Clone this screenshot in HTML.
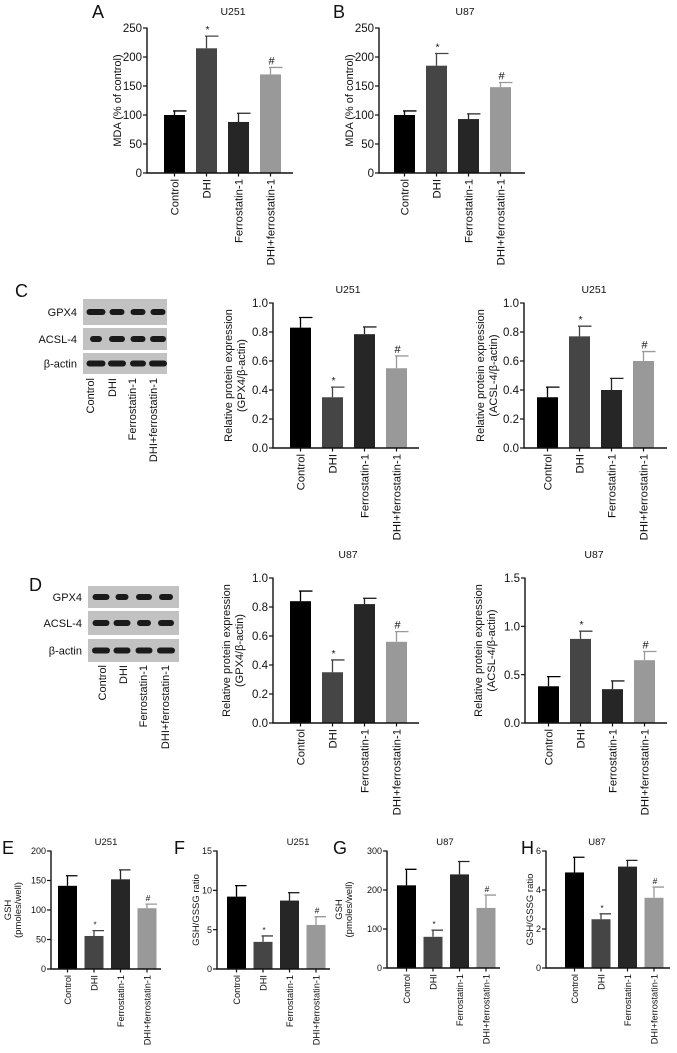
<!DOCTYPE html>
<html><head><meta charset="utf-8">
<style>
html,body{margin:0;padding:0;background:#fff;}
svg{display:block;font-family:"Liberation Sans",Arial,sans-serif;}
</style></head>
<body>
<svg id="fig" width="677" height="1053" viewBox="0 0 677 1053" xmlns="http://www.w3.org/2000/svg">
<rect width="677" height="1053" fill="#fff"/>
<g id="blots"></g>
</svg>
<script>
// ---------- data ----------
const categories = ["Control", "DHI", "Ferrostatin-1", "DHI+ferrostatin-1"];
const barColors = ["#000000", "#454545", "#262626", "#999999"];
const marks = ["", "*", "", "#"];

const valuesA = [100, 215, 88, 170];
const errorsA = [7, 21, 15, 12];
const ticksA = [0, 50, 100, 150, 200, 250];
const tickLabelsA = ["0", "50", "100", "150", "200", "250"];

const valuesB = [100, 185, 93, 148];
const errorsB = [7, 21, 9, 8];
const ticksB = [0, 50, 100, 150, 200, 250];
const tickLabelsB = ["0", "50", "100", "150", "200", "250"];

const valuesC1 = [0.83, 0.35, 0.785, 0.55];
const errorsC1 = [0.07, 0.07, 0.05, 0.085];
const ticksC = [0, 0.2, 0.4, 0.6, 0.8, 1.0];
const tickLabelsC = ["0.0", "0.2", "0.4", "0.6", "0.8", "1.0"];

const valuesC2 = [0.35, 0.77, 0.40, 0.60];
const errorsC2 = [0.07, 0.07, 0.08, 0.065];

const valuesD1 = [0.84, 0.35, 0.82, 0.56];
const errorsD1 = [0.07, 0.085, 0.04, 0.07];

const valuesD2 = [0.38, 0.87, 0.35, 0.65];
const errorsD2 = [0.10, 0.08, 0.085, 0.09];
const ticksD2 = [0, 0.5, 1.0, 1.5];
const tickLabelsD2 = ["0.0", "0.5", "1.0", "1.5"];

const valuesE = [141, 56, 152, 103];
const errorsE = [17, 9, 16, 7];
const ticksE = [0, 50, 100, 150, 200];
const tickLabelsE = ["0", "50", "100", "150", "200"];

const valuesF = [9.2, 3.45, 8.7, 5.6];
const errorsF = [1.4, 0.75, 1.0, 1.05];
const ticksF = [0, 5, 10, 15];
const tickLabelsF = ["0", "5", "10", "15"];

const valuesG = [212, 80, 240, 154];
const errorsG = [41, 17, 33, 33];
const ticksG = [0, 100, 200, 300];
const tickLabelsG = ["0", "100", "200", "300"];

const valuesH = [4.9, 2.5, 5.2, 3.6];
const errorsH = [0.78, 0.28, 0.32, 0.55];
const ticksH = [0, 2, 4, 6];
const tickLabelsH = ["0", "2", "4", "6"];

// ---------- drawing ----------
const NS = "http://www.w3.org/2000/svg";
const svg = document.getElementById("fig");
function el(tag, attrs, parent) {
  const e = document.createElementNS(NS, tag);
  for (const k in attrs) e.setAttribute(k, attrs[k]);
  (parent || svg).appendChild(e);
  return e;
}
function txt(parent, x, y, s, size, anchor, rot, weight) {
  const t = el("text", {x: x, y: y, "font-size": size, "text-anchor": anchor || "start", fill: "#111"}, parent);
  if (weight) t.setAttribute("font-weight", weight);
  if (rot) t.setAttribute("transform", "rotate(-90 " + x + " " + y + ")");
  t.textContent = s;
  return t;
}

function drawChart(id, L, values, errors, ticks, tickLabels, title, ytitles) {
  const g = el("g", {});
  
  
  const ymax = ticks[ticks.length - 1];
  const yS = v => L.bottom - (v / ymax) * (L.bottom - L.top);
  const xS = i => L.bx + i * L.step;
  values.forEach((v, i) => {
    const r = el("rect", {x: xS(i), y: yS(v), width: L.bw, height: L.bottom - yS(v), fill: barColors[i]}, g);
    
    
    const cx = xS(i) + L.bw / 2;
    const ye = yS(v + errors[i]);
    const eb = el("path", {d: "M" + cx + " " + yS(v) + "V" + ye + "M" + (cx - 1.5) + " " + ye + "H" + (cx + L.cap), stroke: barColors[i], "stroke-width": 1.3, fill: "none"}, g);
    
    
    if (marks[i]) {
      const m = txt(g, cx + 1, ye - 3, marks[i], marks[i] === "*" ? L.fs - 1 : L.fs - 0.5, "middle");
      
      
    }
    el("path", {d: "M" + cx + " " + L.bottom + "v3.5", stroke: "#111", "stroke-width": 1.2}, g);
    const c = txt(g, cx + L.cfs * 0.36, L.bottom + 6, categories[i], L.cfs, "end", true);
    
    
  });
  const ax = el("path", {d: "M" + L.ax + " " + (L.top - 0.5) + "V" + L.bottom + "H" + L.axEnd, stroke: "#111", "stroke-width": 1.4, fill: "none"}, g);
  
  
  ticks.forEach((t, i) => {
    const y = yS(t);
    el("path", {d: "M" + (L.ax - 4) + " " + y + "H" + L.ax, stroke: "#111", "stroke-width": 1.2}, g);
    const tl = txt(g, L.ax - 5, y + L.fs * 0.36, tickLabels[i], L.fs, "end");
    
    
  });
  const tt = txt(g, L.tx, L.ty, title, L.tfs, "middle");
  
  
  ytitles.forEach((s, k) => {
    const yt = txt(g, L.yx[k], (L.top + L.bottom) / 2, s, L.yfs, "middle", true);
    
    
  });
}

const big = {step: 32, bw: 21, cap: 12, fs: 11.5, cfs: 11.3, tfs: 10.5, yfs: 11};
const small = {step: 26.5, bw: 19, cap: 10, fs: 9, cfs: 9.2, tfs: 9.5, yfs: 9.5};
function L(base, o) { return Object.assign({}, base, o); }

drawChart("a", L(big, {ax: 147, axEnd: 293, bx: 164, top: 28, bottom: 173, tx: 233, ty: 15, yx: [121]}), valuesA, errorsA, ticksA, tickLabelsA, "U251", ["MDA (% of control)"]);
drawChart("b", L(big, {ax: 379, axEnd: 525, bx: 394, top: 28, bottom: 173, tx: 465, ty: 15, yx: [353]}), valuesB, errorsB, ticksB, tickLabelsB, "U87", ["MDA (% of control)"]);
drawChart("c1", L(big, {ax: 273, axEnd: 419, bx: 290, top: 303, bottom: 448, tx: 348, ty: 293, yx: [232, 245]}), valuesC1, errorsC1, ticksC, tickLabelsC, "U251", ["Relative protein expression", "(GPX4/β-actin)"]);
drawChart("c2", L(big, {ax: 524, axEnd: 667, bx: 537, top: 303, bottom: 448, tx: 594, ty: 293, yx: [484, 497]}), valuesC2, errorsC2, ticksC, tickLabelsC, "U251", ["Relative protein expression", "(ACSL-4/β-actin)"]);
drawChart("d1", L(big, {ax: 273, axEnd: 419, bx: 290, top: 578, bottom: 723, tx: 348, ty: 558, yx: [230, 243]}), valuesD1, errorsD1, ticksC, tickLabelsC, "U87", ["Relative protein expression", "(GPX4/β-actin)"]);
drawChart("d2", L(big, {ax: 525, axEnd: 667, bx: 538, top: 578, bottom: 723, tx: 594, ty: 558, yx: [482, 495]}), valuesD2, errorsD2, ticksD2, tickLabelsD2, "U87", ["Relative protein expression", "(ACSL-4/β-actin)"]);
drawChart("e", L(small, {ax: 51, axEnd: 161, bx: 58, top: 851, bottom: 969, tx: 106, ty: 845, yx: [11, 21]}), valuesE, errorsE, ticksE, tickLabelsE, "U251", ["GSH", "(pmoles/well)"]);
drawChart("f", L(small, {ax: 217, axEnd: 330, bx: 227, top: 851, bottom: 969, tx: 298, ty: 845, yx: [199]}), valuesF, errorsF, ticksF, tickLabelsF, "U251", ["GSH/GSSG ratio"]);
drawChart("g", L(small, {ax: 387, axEnd: 500, bx: 397, top: 851, bottom: 968, tx: 445, ty: 845, yx: [342, 352]}), valuesG, errorsG, ticksG, tickLabelsG, "U87", ["GSH", "(pmoles/well)"]);
drawChart("h", L(small, {ax: 546, axEnd: 670, bx: 565, top: 851, bottom: 968, tx: 597, ty: 845, yx: [533]}), valuesH, errorsH, ticksH, tickLabelsH, "U87", ["GSH/GSSG ratio"]);

[["A", 92, 18], ["B", 333, 18], ["C", 15, 297], ["D", 29, 591], ["E", 2, 854], ["F", 174, 854], ["G", 333, 854], ["H", 521, 854]].forEach(p => {
  const t = txt(svg, p[1], p[2], p[0], 18, "start");
  
  
});

const blotRows = ["GPX4", "ACSL-4", "β-actin"];
const bandWidthsC = [[19, 15, 15, 15], [12, 16, 15, 16], [19, 18, 16, 18]];
const bandWidthsD = [[17, 13, 16, 14], [17, 17, 14, 16], [18, 17, 17, 18]];
function drawBlot(id, x0, w, rows, lanes, lab, labY, bands) {
  const g = el("g", {}, document.getElementById("blots"));
  
  
  rows.forEach((r, k) => {
    el("rect", {x: x0, y: r[0], width: w, height: r[1] - r[0], fill: "#c2c2c2"}, g);
    const cy = (r[0] + r[1]) / 2;
    lanes.forEach((lx, j) => {
      const bw = bands[k][j];
      el("rect", {x: lx - bw / 2, y: cy - 3, width: bw, height: 6, rx: 3, fill: "#1a1a1a"}, g);
    });
    const t = txt(g, x0 - 6, cy + 4, blotRows[k], 11, "end");
    
    
  });
  lab.forEach((lx, j) => {
    const t = txt(g, lx + 4, labY, categories[j], 11, "end", true);
    
    
  });
}
drawBlot("c", 83, 84, [[299, 325], [328, 350], [353, 374]], [96, 117, 138, 158], [90, 112, 132, 153], 378, bandWidthsC);
drawBlot("d", 88, 91, [[586, 608], [611, 635], [639, 662]], [101, 122, 144, 166], [102, 123, 143, 165], 665, bandWidthsD);
</script>
</body></html>
